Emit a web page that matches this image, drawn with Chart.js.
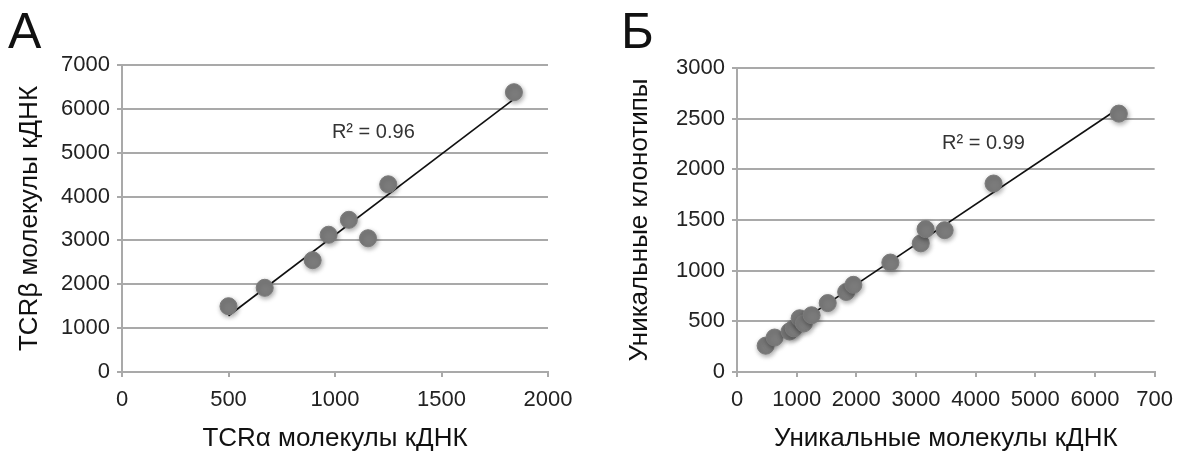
<!DOCTYPE html>
<html>
<head>
<meta charset="utf-8">
<script src="https://cdn.jsdelivr.net/npm/chart.js@4.4.1/dist/chart.umd.min.js"></script>
<style>
  html, body { margin: 0; padding: 0; background: #fff; }
  body { width: 1183px; height: 457px; position: relative; overflow: hidden; font-family: "Liberation Sans", Arial, sans-serif; }
  .panel { position: absolute; top: 0; height: 457px; }
  #boxA { left: 0; width: 600px; }
  #boxB { left: 600px; width: 583px; }
  .letter { position: absolute; top: 6px; font-size: 50px; color: #111; line-height: 1; }
</style>
</head>
<body>
<div class="panel" id="boxA"><canvas id="chartA"></canvas></div>
<div class="panel" id="boxB"><canvas id="chartB"></canvas></div>
<div class="letter" style="left:8px;">А</div>
<div class="letter" style="left:621px;">Б</div>
<script>
// panel A: TCRα vs TCRβ
const tcrAlpha = [500, 670, 895, 970, 1065, 1155, 1250, 1840];
const tcrBeta = [1500, 1920, 2550, 3130, 3470, 3050, 4280, 6380];
const xTicksA = ['0', '500', '1000', '1500', '2000'];
const yTicksA = ['0', '1000', '2000', '3000', '4000', '5000', '6000', '7000'];

// panel B: unique molecules vs unique clonotypes
const uniqMolecules = [480, 630, 880, 950, 1050, 1120, 1250, 1520, 1830, 1950, 2570, 3080, 3160, 3480, 4300, 6400];
const uniqClonotypes = [260, 340, 400, 430, 530, 480, 560, 680, 790, 860, 1080, 1270, 1410, 1400, 1860, 2550];
const xTicksB = ['0', '1000', '2000', '3000', '4000', '5000', '6000', '700'];
const yTicksB = ['0', '500', '1000', '1500', '2000', '2500', '3000'];

const GRID = '#a9a9a9';
const FONT = '"Liberation Sans", Arial, sans-serif';

function linearFit(xs, ys) {
    const n = xs.length;
    const mx = xs.reduce((a, b) => a + b, 0) / n;
    const my = ys.reduce((a, b) => a + b, 0) / n;
    let sxy = 0, sxx = 0;
    for (let i = 0; i < n; i++) {
        sxy += (xs[i] - mx) * (ys[i] - my);
        sxx += (xs[i] - mx) * (xs[i] - mx);
    }
    const k = sxy / sxx;
    const b = my - k * mx;
    const x0 = Math.min(...xs), x1 = Math.max(...xs);
    return [{ x: x0, y: k * x0 + b }, { x: x1, y: k * x1 + b }];
}

// soft shadow under the points, and the R² note
const softPoints = {
    id: 'softPoints',
    beforeDatasetDraw(chart, args) {
        if (args.index !== 0) return;
        const ctx = chart.ctx;
        ctx.save();
        ctx.shadowColor = 'rgba(0,0,0,0.35)';
        ctx.shadowBlur = 5;
        ctx.shadowOffsetX = 1;
        ctx.shadowOffsetY = 2;
    },
    afterDatasetDraw(chart, args) {
        if (args.index !== 0) return;
        chart.ctx.restore();
    },
    afterDraw(chart, args, opts) {
        if (!opts.text) return;
        const ctx = chart.ctx;
        const px = chart.scales.x.getPixelForValue(opts.at[0]);
        const py = chart.scales.y.getPixelForValue(opts.at[1]);
        ctx.save();
        ctx.font = '20px ' + FONT;
        ctx.fillStyle = '#333';
        ctx.textAlign = 'center';
        ctx.textBaseline = 'middle';
        ctx.fillText(opts.text, px, py);
        ctx.restore();
    }
};

function createChart(elementId, xs, ys, cfg) {
    const points = xs.map((x, i) => ({ x: x, y: ys[i] }));
    new Chart(document.getElementById(elementId), {
        type: 'scatter',
        data: {
            datasets: [{
                data: points,
                backgroundColor: '#7b7b7b',
                borderColor: '#7b7b7b',
                pointRadius: 8.5,
                pointHoverRadius: 8.5
            }, {
                type: 'line',
                data: linearFit(xs, ys),
                borderColor: '#111',
                borderWidth: 1.6,
                pointRadius: 0,
                fill: false
            }]
        },
        options: {
            responsive: true,
            maintainAspectRatio: false,
            animation: false,
            events: [],
            layout: { padding: cfg.padding },
            scales: {
                x: {
                    type: 'linear',
                    min: 0,
                    max: cfg.xMax,
                    afterBuildTicks: s => { s.ticks = cfg.xTicks.map((_, i) => ({ value: i * cfg.xStep })); },
                    afterFit: s => { s.height = 85; },
                    grid: { drawOnChartArea: false, drawTicks: true, tickLength: 5, color: GRID, lineWidth: 2 },
                    border: { display: true, color: GRID, width: 2 },
                    ticks: {
                        color: '#222',
                        font: { family: FONT, size: 22 },
                        padding: 10,
                        maxRotation: 0,
                        autoSkip: false,
                        callback: (v, i) => cfg.xTicks[i]
                    },
                    title: {
                        display: true,
                        text: cfg.xTitle,
                        color: '#111',
                        font: { family: FONT, size: 26 },
                        padding: { bottom: 3 }
                    }
                },
                y: {
                    type: 'linear',
                    min: 0,
                    max: cfg.yMax,
                    afterBuildTicks: s => { s.ticks = cfg.yTicks.map((_, i) => ({ value: i * cfg.yStep })); },
                    afterFit: s => { s.width = cfg.yWidth; },
                    grid: { color: GRID, lineWidth: 2, tickLength: 5 },
                    border: { display: true, color: GRID, width: 2 },
                    ticks: {
                        color: '#222',
                        font: { family: FONT, size: 22 },
                        padding: 7,
                        autoSkip: false,
                        callback: (v, i) => cfg.yTicks[i]
                    },
                    title: {
                        display: true,
                        text: cfg.yTitle,
                        color: '#111',
                        font: { family: FONT, size: 26 },
                        padding: { top: cfg.yTitlePad }
                    }
                }
            },
            plugins: {
                legend: { display: false },
                tooltip: { enabled: false },
                softPoints: { text: cfg.note, at: cfg.noteAt }
            }
        },
        plugins: [softPoints]
    });
}

createChart('chartA', tcrAlpha, tcrBeta, {
    xMax: 2000, xStep: 500, xTicks: xTicksA,
    yMax: 7000, yStep: 1000, yTicks: yTicksA,
    xTitle: 'TCRα молекулы кДНК',
    yTitle: 'TCRβ молекулы кДНК',
    yWidth: 122, yTitlePad: 14,
    padding: { top: 65, right: 52, left: 0, bottom: 0 },
    note: 'R² = 0.96', noteAt: [1180, 5450]
});

createChart('chartB', uniqMolecules, uniqClonotypes, {
    xMax: 7000, xStep: 1000, xTicks: xTicksB,
    yMax: 3000, yStep: 500, yTicks: yTicksB,
    xTitle: 'Уникальные молекулы кДНК',
    yTitle: 'Уникальные клонотипы',
    yWidth: 137, yTitlePad: 24,
    padding: { top: 68, right: 21, left: 0, bottom: 0 },
    note: 'R² = 0.99', noteAt: [4130, 2260]
});
</script>
</body>
</html>
